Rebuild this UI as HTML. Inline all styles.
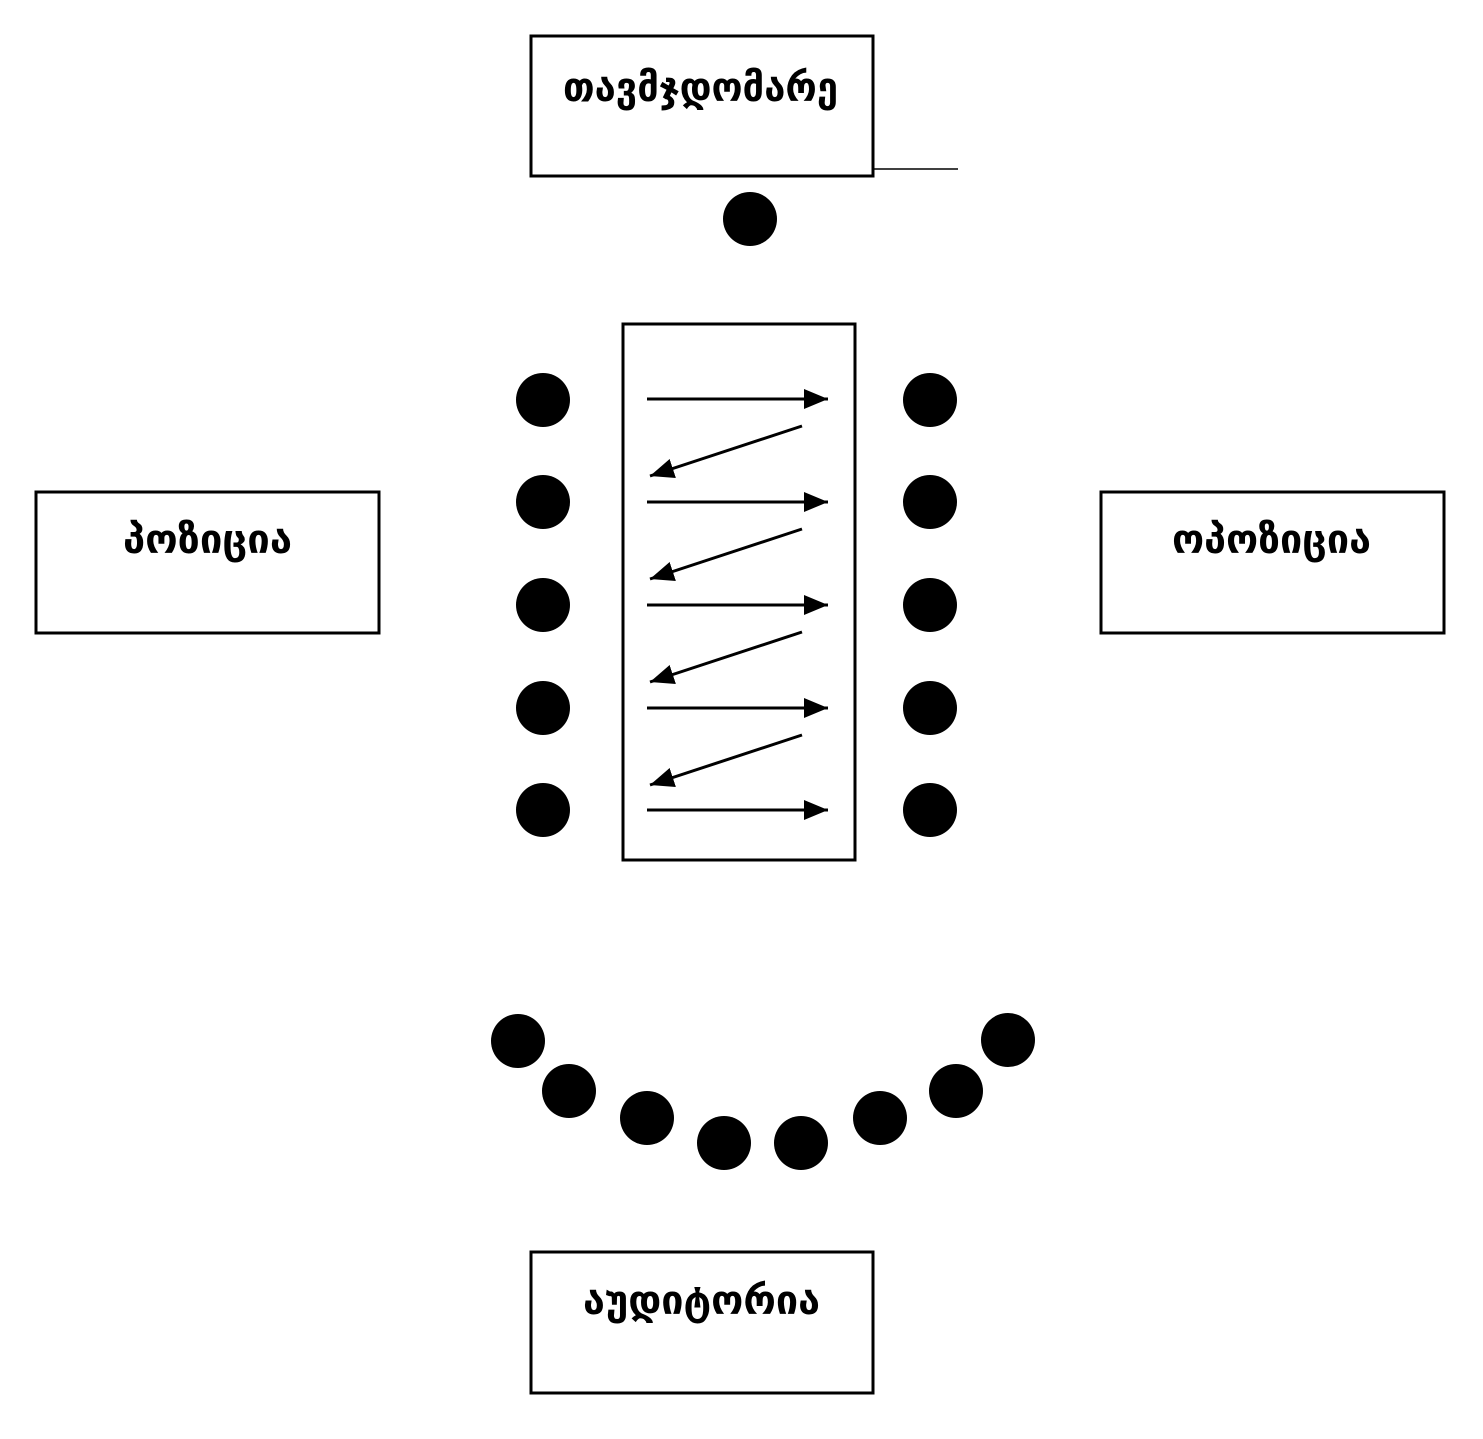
<!DOCTYPE html>
<html><head><meta charset="utf-8"><style>html,body{margin:0;padding:0;background:#fff}</style></head>
<body>
<svg width="1483" height="1434" viewBox="0 0 1483 1434" xmlns="http://www.w3.org/2000/svg">
<defs>
<marker id="h" viewBox="0 0 24 20" refX="24" refY="10" markerWidth="24" markerHeight="20" orient="auto" markerUnits="userSpaceOnUse"><path d="M0,0 L24,10 L0,20 Z" fill="#000"/></marker>
</defs>
<g fill="none" stroke="#000" stroke-width="3">
<rect x="531" y="36" width="342" height="140"/>
<rect x="36" y="492" width="343" height="141"/>
<rect x="1101" y="492" width="343" height="141"/>
<rect x="531" y="1252" width="342" height="141"/>
<rect x="623" y="324" width="232" height="536"/>
</g>
<line x1="873" y1="169" x2="958" y2="169" stroke="#000" stroke-width="1.5"/>
<g stroke="#000" stroke-width="3">
<line x1="647" y1="399" x2="828" y2="399" marker-end="url(#h)"/>
<line x1="647" y1="502" x2="828" y2="502" marker-end="url(#h)"/>
<line x1="647" y1="605" x2="828" y2="605" marker-end="url(#h)"/>
<line x1="647" y1="708" x2="828" y2="708" marker-end="url(#h)"/>
<line x1="647" y1="810" x2="828" y2="810" marker-end="url(#h)"/>
<line x1="802" y1="426" x2="650" y2="476" marker-end="url(#h)"/>
<line x1="802" y1="529" x2="650" y2="579" marker-end="url(#h)"/>
<line x1="802" y1="632" x2="650" y2="682" marker-end="url(#h)"/>
<line x1="802" y1="735" x2="650" y2="785" marker-end="url(#h)"/>
</g>
<g fill="#000">
<circle cx="750" cy="219" r="27"/>
<circle cx="543" cy="400" r="27"/><circle cx="543" cy="502" r="27"/><circle cx="543" cy="605" r="27"/><circle cx="543" cy="708" r="27"/><circle cx="543" cy="810" r="27"/>
<circle cx="930" cy="400" r="27"/><circle cx="930" cy="502" r="27"/><circle cx="930" cy="605" r="27"/><circle cx="930" cy="708" r="27"/><circle cx="930" cy="810" r="27"/>
<circle cx="518" cy="1041" r="27"/><circle cx="569" cy="1091" r="27"/><circle cx="647" cy="1118" r="27"/><circle cx="724" cy="1143" r="27"/><circle cx="801" cy="1143" r="27"/><circle cx="880" cy="1118" r="27"/><circle cx="956" cy="1091" r="27"/><circle cx="1008" cy="1040" r="27"/>
</g>
<g font-family="'DejaVu Sans', 'Liberation Sans', sans-serif" font-size="40" font-weight="bold" fill="#000">
<text x="563" y="101" textLength="275" lengthAdjust="spacingAndGlyphs">თავმჯდომარე</text>
<text x="123" y="553" textLength="169" lengthAdjust="spacingAndGlyphs">პოზიცია</text>
<text x="1172" y="553" textLength="199" lengthAdjust="spacingAndGlyphs">ოპოზიცია</text>
<text x="583" y="1314" textLength="237" lengthAdjust="spacingAndGlyphs">აუდიტორია</text>
</g>
</svg>
</body></html>
